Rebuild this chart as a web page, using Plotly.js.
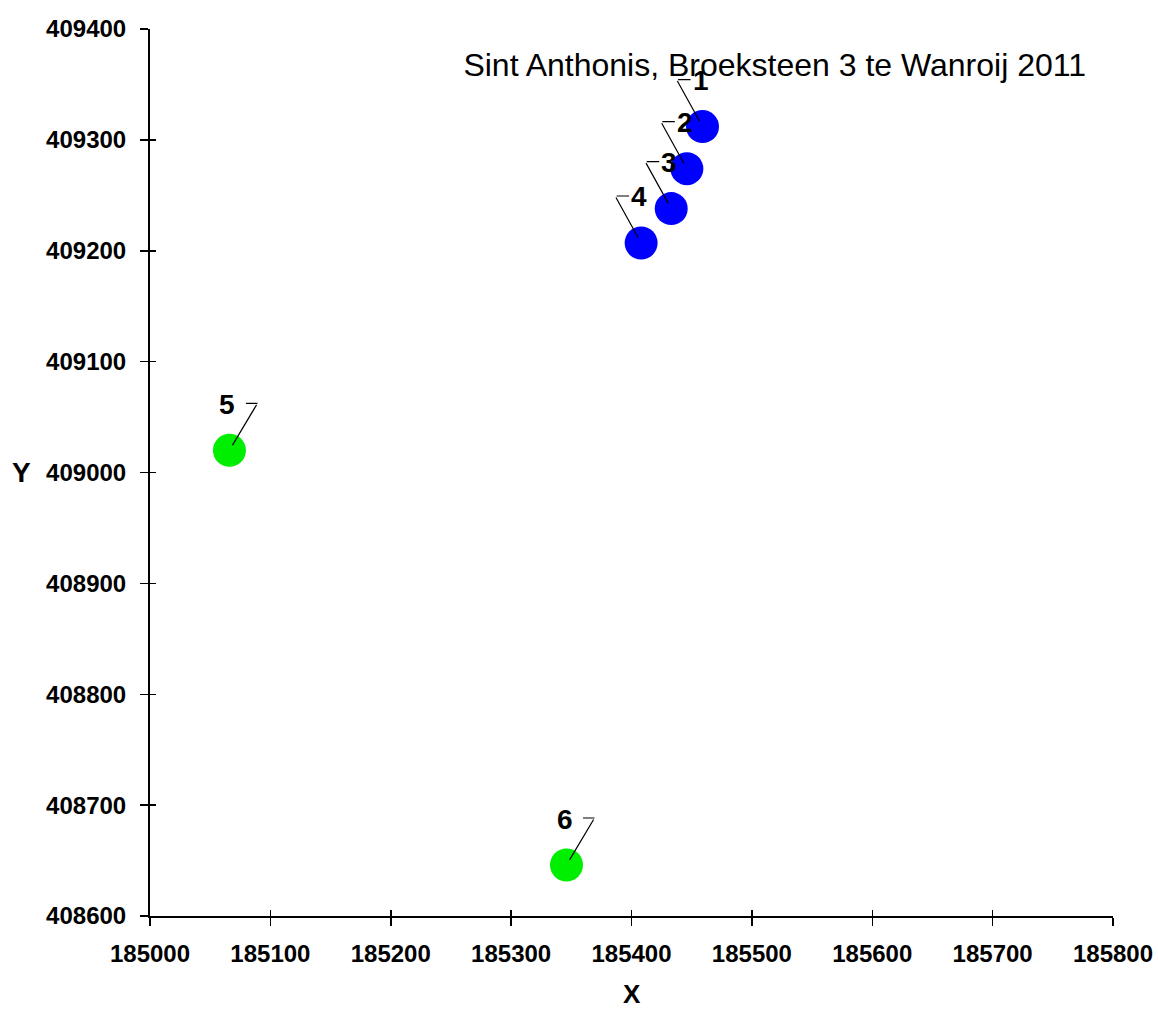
<!DOCTYPE html>
<html>
<head>
<meta charset="utf-8">
<script src="https://cdn.plot.ly/plotly-3.0.1.min.js"></script>
<style>html,body{margin:0;padding:0;background:#fff;}#chart{width:1158px;height:1011px;}</style>
</head>
<body>
<div id="chart"></div>
<script>
// ---- data ----
const pointLabels = ['1', '2', '3', '4', '5', '6'];
const pointX = [185459, 185446, 185433, 185408, 185066, 185346];
const pointY = [409312, 409274, 409238, 409207, 409020, 408646];
const pointGroup = ['A', 'A', 'A', 'A', 'B', 'B'];
const xTicks = [185000, 185100, 185200, 185300, 185400, 185500, 185600, 185700, 185800];
const yTicks = [408600, 408700, 408800, 408900, 409000, 409100, 409200, 409300, 409400];
const chartTitle = 'Sint Anthonis, Broeksteen 3 te Wanroij 2011';
const xTitle = 'X';
const yTitle = 'Y';

// ---- styles ----
const groupColor = {A: '#0000ff', B: '#00ee00'};
const FONT = 'Liberation Sans, Arial, sans-serif';

const traces = [];
['A', 'B'].forEach(g => {
  const idx = pointGroup.map((v, i) => v === g ? i : -1).filter(i => i >= 0);
  traces.push({
    type: 'scatter', mode: 'markers',
    x: idx.map(i => pointX[i]), y: idx.map(i => pointY[i]),
    marker: {size: 33, color: groupColor[g], line: {width: 0}},
    hoverinfo: 'x+y', showlegend: false
  });
});
// dummy trace for overlay axes (crossing ticks)
traces.push({type: 'scatter', x: [xTicks[0]], y: [yTicks[0]], xaxis: 'x2', yaxis: 'y2',
  mode: 'markers', marker: {opacity: 0}, hoverinfo: 'skip', showlegend: false});

const annotations = [];
pointLabels.forEach((lab, i) => {
  const left = pointGroup[i] === 'A';
  annotations.push({x: pointX[i], y: pointY[i], xref: 'x', yref: 'y', text: lab, showarrow: false,
    xshift: -2, yshift: 46, font: {family: FONT, size: 28, color: '#000', weight: 'bold'}});
  const tickA = left ? -26 : 15, tickB = left ? -12 : 28;
  const tail = left ? tickA : tickB;
  // horizontal tick
  annotations.push({x: pointX[i], y: pointY[i], xref: 'x', yref: 'y', text: '', showarrow: true,
    arrowhead: 0, arrowwidth: 1.2, arrowcolor: '#000', xshift: tickB, yshift: 47, ax: tickA - tickB, ay: 0, standoff: 0});
  // leader line
  annotations.push({x: pointX[i], y: pointY[i], xref: 'x', yref: 'y', text: '', showarrow: true,
    arrowhead: 0, arrowwidth: 1.2, arrowcolor: '#000', ax: tail, ay: -47, standoff: 6});
});
annotations.push({xref: 'paper', yref: 'paper', x: 0.5, y: -0.088, xanchor: 'center', yanchor: 'middle',
  text: xTitle, showarrow: false, font: {family: FONT, size: 26, color: '#000', weight: 'bold'}});
annotations.push({xref: 'paper', yref: 'paper', x: -0.133, y: 0.5, xanchor: 'center', yanchor: 'middle',
  text: yTitle, showarrow: false, font: {family: FONT, size: 28, color: '#000', weight: 'bold'}});

const tickFont = {family: FONT, size: 24, color: '#000', weight: 'bold'};
const xr = [xTicks[0], xTicks[xTicks.length - 1]];
const yr = [yTicks[0], yTicks[yTicks.length - 1]];

const layout = {
  width: 1158, height: 1011,
  margin: {l: 150, r: 45, t: 29, b: 95},
  paper_bgcolor: '#fff', plot_bgcolor: '#fff',
  showlegend: false,
  title: {text: chartTitle, xref: 'container', yref: 'container', x: 0.669, y: 0.936,
    xanchor: 'center', yanchor: 'middle', font: {family: FONT, size: 32, color: '#000'}},
  xaxis: {range: xr, tickvals: xTicks, tickformat: 'd', showgrid: false, zeroline: false,
    showline: true, linecolor: '#000', linewidth: 2, ticks: 'outside', ticklen: 8, tickwidth: 1.5,
    tickcolor: '#000', tickfont: tickFont, ticklabelstandoff: 7, fixedrange: true},
  yaxis: {range: yr, tickvals: yTicks, tickformat: 'd', showgrid: false, zeroline: false,
    showline: true, linecolor: '#000', linewidth: 2, ticks: 'outside', ticklen: 8, tickwidth: 1.5,
    tickcolor: '#000', tickfont: tickFont, ticklabelstandoff: 9, fixedrange: true},
  xaxis2: {overlaying: 'x', matches: 'x', range: xr, tickvals: xTicks, showticklabels: false, showgrid: false,
    zeroline: false, ticks: 'inside', ticklen: 6, tickwidth: 1.5, tickcolor: '#000', side: 'bottom'},
  yaxis2: {overlaying: 'y', matches: 'y', range: yr, tickvals: yTicks, showticklabels: false, showgrid: false,
    zeroline: false, ticks: 'inside', ticklen: 6, tickwidth: 1.5, tickcolor: '#000', side: 'left'},
  annotations: annotations
};

Plotly.newPlot('chart', traces, layout, {displayModeBar: false, staticPlot: true});
</script>
</body>
</html>
